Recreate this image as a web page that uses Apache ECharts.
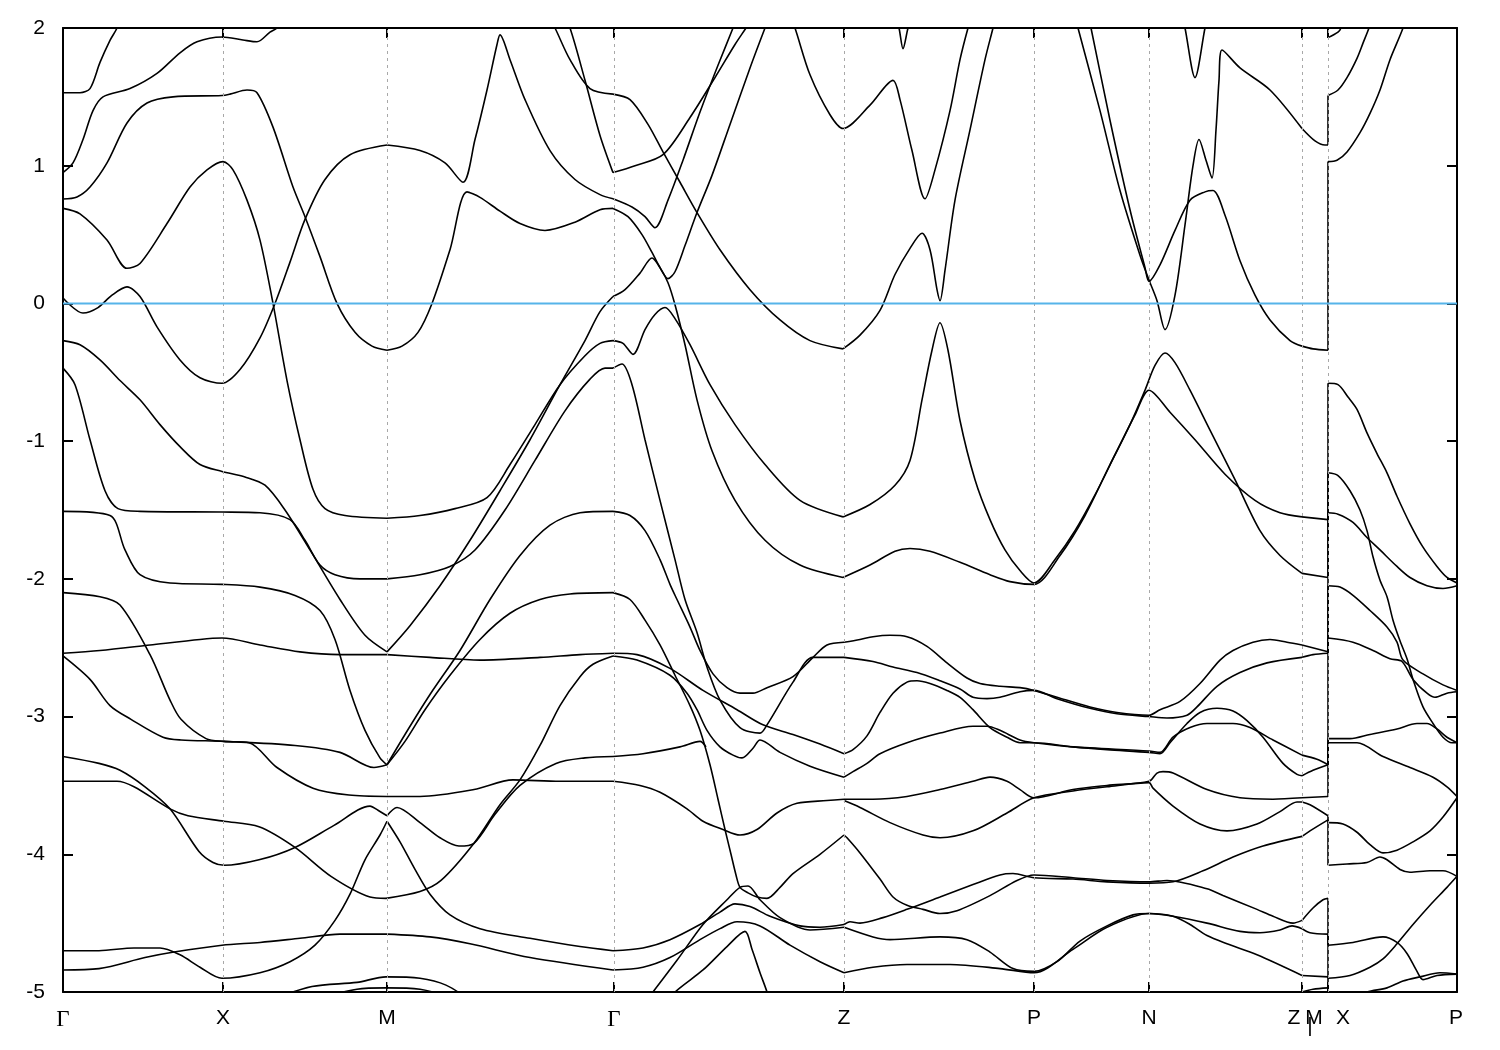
<!DOCTYPE html>
<html><head><meta charset="utf-8">
<script src="https://cdn.jsdelivr.net/npm/echarts@6/dist/echarts.min.js"></script>
<style>html,body{margin:0;padding:0;background:#fff}#c{width:1500px;height:1050px}</style>
</head><body><div id="c"></div>
<script>
// k-path positions (path-length units)
const kTicks = [0,160,324,551,781,971,1086,1239,1265,1394];
const kGrid = [160,324,551,781,971,1086,1239,1265];
const kLabels = [[0,'Γ'],[160,'X'],[324,'M'],[551,'Γ'],[781,'Z'],[971,'P'],[1086,'N'],[1231,'Z'],[1251,'M'],[1247,'|'],[1280,'X'],[1393,'P']];
const breakK = 1265;

// Γ-X-M bands (k, E in eV)
const bandsGXM = [
 [[0,1.53],[17,1.53],[27,1.56],[37,1.75],[47,1.91],[54,2.0],[58,2.1]],
 [[0,0.95],[10,1.02],[20,1.19],[30,1.40],[40,1.50],[67,1.56],[94,1.67],[117,1.82],[134,1.90],[159,1.935],[180,1.913],[194,1.90],[207,1.97],[214,2.0],[219,2.05]],
 [[0,0.758],[14,0.773],[27,0.845],[44,1.02],[64,1.31],[84,1.455],[110,1.50],[159,1.51],[167,1.52],[184,1.55],[194,1.53],[210,1.28],[230,0.845],[242,0.63],[257,0.34],[274,0.0],[292,-0.21],[309,-0.31],[324,-0.34]],
 [[0,0.69],[17,0.65],[44,0.46],[64,0.255],[77,0.29],[104,0.58],[127,0.845],[144,0.97],[160,1.03],[170,0.97],[184,0.75],[197,0.46],[210,0.0],[224,-0.56],[237,-0.99],[250,-1.35],[262,-1.49],[282,-1.54],[324,-1.56]],
 [[0,0.04],[20,-0.07],[35,-0.03],[49,0.06],[64,0.12],[77,0.05],[94,-0.17],[117,-0.41],[137,-0.54],[159,-0.58],[177,-0.48],[197,-0.25],[212,0.0],[227,0.30],[242,0.61],[262,0.90],[287,1.08],[324,1.15]],
 [[0,-0.27],[17,-0.30],[37,-0.41],[57,-0.56],[77,-0.70],[97,-0.88],[117,-1.04],[137,-1.17],[159,-1.22],[182,-1.26],[202,-1.32],[222,-1.50],[247,-1.79],[277,-2.15],[302,-2.41],[324,-2.53]],
 [[0,-0.47],[12,-0.59],[27,-0.99],[42,-1.36],[55,-1.49],[77,-1.51],[159,-1.515],[197,-1.52],[227,-1.57],[242,-1.72],[257,-1.90],[272,-1.97],[297,-2.0],[324,-2.0]],
 [[0,-1.51],[47,-1.54],[62,-1.79],[77,-1.97],[107,-2.03],[159,-2.04],[197,-2.06],[232,-2.12],[257,-2.23],[272,-2.44],[287,-2.81],[302,-3.10],[317,-3.30],[324,-3.35]],
 [[0,-2.10],[37,-2.13],[57,-2.19],[87,-2.55],[107,-2.88],[118,-3.02],[143,-3.16],[161,-3.18],[186,-3.19],[214,-3.37],[250,-3.52],[286,-3.57],[324,-3.58]],
 [[0,-2.54],[37,-2.52],[87,-2.48],[137,-2.44],[159,-2.43],[197,-2.48],[237,-2.53],[277,-2.55],[324,-2.55]],
 [[0,-2.56],[27,-2.73],[47,-2.92],[68,-3.02],[100,-3.15],[118,-3.17],[161,-3.18],[232,-3.21],[277,-3.26],[311,-3.37],[324,-3.35]],
 [[0,-3.29],[36,-3.34],[57,-3.39],[82,-3.51],[107,-3.67],[136,-3.98],[150,-4.06],[161,-4.08],[196,-4.04],[232,-3.95],[271,-3.79],[307,-3.65],[315,-3.68],[324,-3.72]],
 [[0,-3.47],[54,-3.47],[71,-3.51],[107,-3.67],[125,-3.72],[161,-3.76],[196,-3.80],[232,-3.95],[268,-4.16],[307,-4.31],[323,-4.32]],
 [[0,-4.70],[36,-4.70],[71,-4.68],[97,-4.68],[117,-4.73],[137,-4.82],[159,-4.90],[197,-4.86],[227,-4.78],[252,-4.66],[272,-4.48],[287,-4.29],[302,-4.04],[317,-3.86],[324,-3.76]],
 [[0,-4.84],[36,-4.83],[82,-4.75],[111,-4.71],[159,-4.66],[197,-4.64],[237,-4.61],[277,-4.58],[324,-4.58]],
 [[207,-5.06],[249,-4.96],[294,-4.93],[323,-4.89],[357,-4.90],[383,-4.95],[407,-5.06]],
 [[247,-5.06],[294,-4.98],[323,-4.97],[357,-4.98],[397,-5.06]]
];

// M-Γ bands
const bandsMG = [
 [[324,1.15],[357,1.11],[382,1.02],[400,0.88],[412,1.19],[424,1.55],[434,1.88],[437,1.95],[447,1.77],[462,1.48],[487,1.11],[512,0.90],[537,0.79],[550,0.76]],
 [[324,-0.34],[339,-0.31],[355,-0.21],[369,0.0],[387,0.39],[404,0.81],[417,0.77],[437,0.67],[457,0.58],[482,0.53],[512,0.59],[537,0.68],[550,0.69]],
 [[485,2.09],[492,2.0],[507,1.77],[527,1.56],[550,1.52]],
 [[500,2.09],[507,2.0],[522,1.62],[537,1.22],[550,0.95]],
 [[324,-1.56],[357,-1.54],[392,-1.49],[424,-1.41],[447,-1.17],[472,-0.88],[497,-0.59],[522,-0.38],[537,-0.29],[550,-0.27]],
 [[324,-2.0],[357,-1.97],[387,-1.91],[412,-1.79],[442,-1.50],[472,-1.14],[502,-0.78],[527,-0.55],[542,-0.47],[550,-0.47]],
 [[324,-2.53],[347,-2.34],[377,-2.05],[407,-1.72],[437,-1.36],[467,-0.99],[497,-0.59],[522,-0.27],[537,-0.06],[550,0.05]],
 [[324,-3.35],[342,-3.13],[367,-2.84],[397,-2.52],[427,-2.15],[457,-1.83],[487,-1.61],[517,-1.52],[550,-1.51]],
 [[324,-3.35],[342,-3.18],[362,-2.95],[387,-2.70],[417,-2.44],[447,-2.25],[477,-2.15],[507,-2.11],[550,-2.10]],
 [[324,-2.55],[367,-2.57],[417,-2.59],[477,-2.57],[517,-2.55],[550,-2.54]],
 [[324,-3.58],[357,-3.58],[411,-3.53],[450,-3.46],[497,-3.47],[550,-3.47]],
 [[323,-4.32],[357,-4.27],[378,-4.19],[411,-3.92],[437,-3.64],[457,-3.46],[477,-3.21],[497,-2.92],[517,-2.71],[530,-2.62],[550,-2.56]],
 [[324,-3.72],[334,-3.66],[357,-3.77],[377,-3.88],[396,-3.94],[411,-3.92],[432,-3.71],[457,-3.50],[493,-3.34],[522,-3.30],[550,-3.29]],
 [[324,-3.76],[337,-3.91],[352,-4.11],[367,-4.29],[387,-4.44],[417,-4.54],[467,-4.61],[517,-4.67],[550,-4.70]],
 [[324,-4.58],[367,-4.60],[407,-4.65],[467,-4.75],[550,-4.84]]
];

// Γ-Z bands
const bandsGZ = [
 [[550,1.52],[567,1.48],[585,1.30],[600,1.10],[617,0.88],[634,0.66],[657,0.39],[687,0.10],[717,-0.12],[747,-0.27],[780,-0.33]],
 [[550,0.95],[572,1.00],[600,1.08],[627,1.35],[652,1.64],[672,1.88],[683,2.0],[689,2.07]],
 [[550,0.76],[569,0.70],[582,0.63],[592,0.55],[605,0.75],[620,1.04],[637,1.39],[655,1.73],[670,2.0],[675,2.1]],
 [[550,0.69],[565,0.63],[579,0.50],[589,0.37],[597,0.26],[605,0.18],[612,0.23],[622,0.42],[634,0.66],[649,0.93],[667,1.30],[687,1.71],[702,2.0],[707,2.09]],
 [[550,0.05],[562,0.10],[577,0.22],[589,0.33],[597,0.26],[605,0.15],[612,-0.01],[622,-0.30],[634,-0.70],[649,-1.07],[672,-1.43],[702,-1.72],[737,-1.90],[780,-1.99]],
 [[550,-0.27],[560,-0.29],[570,-0.37],[582,-0.19],[592,-0.08],[602,-0.03],[612,-0.11],[627,-0.30],[647,-0.59],[672,-0.88],[702,-1.17],[737,-1.43],[780,-1.55]],
 [[550,-0.47],[559,-0.44],[569,-0.59],[582,-0.99],[597,-1.43],[612,-1.86],[622,-2.15],[634,-2.39],[644,-2.64],[657,-2.88],[677,-3.08],[697,-3.12],[704,-3.06],[730,-2.75],[750,-2.57],[781,-2.57]],
 [[550,-1.51],[567,-1.54],[582,-1.65],[597,-1.86],[607,-2.04],[614,-2.15],[627,-2.35],[637,-2.52],[650,-2.69],[664,-2.79],[677,-2.83],[690,-2.83],[704,-2.79],[730,-2.71],[750,-2.57],[764,-2.48],[781,-2.46]],
 [[550,-2.54],[574,-2.55],[607,-2.65],[640,-2.81],[674,-2.95],[700,-3.06],[730,-3.13],[757,-3.20],[781,-3.27]],
 [[550,-2.56],[574,-2.59],[607,-2.70],[624,-2.83],[634,-2.95],[644,-3.10],[657,-3.22],[670,-3.28],[679,-3.30],[690,-3.23],[697,-3.17],[717,-3.26],[747,-3.36],[781,-3.44]],
 [[550,-2.10],[567,-2.15],[582,-2.30],[597,-2.48],[612,-2.70],[627,-2.92],[637,-3.10],[647,-3.35],[655,-3.60],[662,-3.82],[668,-4.00],[673,-4.15],[677,-4.24],[685,-4.28],[694,-4.31],[704,-4.32],[717,-4.24],[730,-4.14],[757,-4.00],[781,-3.86]],
 [[550,-3.29],[580,-3.27],[617,-3.22],[637,-3.18],[643,-3.22]],
 [[550,-3.47],[577,-3.50],[597,-3.55],[624,-3.67],[640,-3.76],[660,-3.82],[677,-3.86],[694,-3.82],[714,-3.70],[734,-3.63],[764,-3.61],[781,-3.60]],
 [[550,-4.70],[580,-4.68],[607,-4.62],[637,-4.51],[657,-4.42],[672,-4.36],[687,-4.38],[707,-4.45],[737,-4.52],[757,-4.53],[781,-4.51]],
 [[550,-4.84],[580,-4.82],[607,-4.75],[637,-4.62],[657,-4.54],[674,-4.49],[697,-4.52],[727,-4.66],[757,-4.78],[781,-4.86]],
 [[577,-5.13],[590,-5.0],[614,-4.77],[640,-4.51],[664,-4.33],[677,-4.24],[685,-4.23],[697,-4.33],[717,-4.46],[747,-4.55],[781,-4.53]],
 [[597,-5.13],[612,-5.0],[640,-4.84],[664,-4.67],[682,-4.56],[689,-4.69],[697,-4.86],[704,-5.0],[709,-5.13]]
];

// Z-P-N-Z bands
const bandsZPNZ = [
 [[727,2.09],[732,2.0],[747,1.66],[767,1.37],[780,1.27],[807,1.44],[830,1.62],[837,1.48],[849,1.11],[862,0.76],[872,0.97],[887,1.40],[897,1.77],[905,2.0],[909,2.09]],
 [[832,2.09],[836,2.0],[840,1.85],[845,2.0],[849,2.09]],
 [[780,-0.33],[797,-0.23],[817,-0.05],[832,0.21],[847,0.40],[859,0.51],[867,0.39],[874,0.10],[877,0.02],[882,0.24],[892,0.75],[907,1.26],[922,1.77],[930,2.0],[933,2.09]],
 [[780,-1.55],[807,-1.46],[832,-1.32],[847,-1.14],[859,-0.70],[869,-0.34],[877,-0.14],[885,-0.34],[897,-0.85],[912,-1.28],[927,-1.57],[942,-1.79],[957,-1.94],[971,-2.03],[992,-1.86],[1012,-1.65],[1032,-1.39],[1052,-1.10],[1072,-0.81],[1086,-0.63],[1107,-0.79],[1132,-0.99],[1162,-1.24],[1192,-1.43],[1217,-1.52],[1239,-1.55]],
 [[780,-1.99],[807,-1.90],[832,-1.80],[847,-1.78],[867,-1.80],[897,-1.88],[927,-1.97],[947,-2.02],[971,-2.04],[997,-1.83],[1022,-1.54],[1047,-1.17],[1067,-0.88],[1082,-0.63],[1092,-0.45],[1102,-0.36],[1112,-0.43],[1127,-0.63],[1147,-0.92],[1172,-1.28],[1197,-1.65],[1217,-1.83],[1239,-1.96]],
 [[1012,2.09],[1015,2.0],[1037,1.40],[1057,0.82],[1077,0.35],[1086,0.17],[1094,0.02],[1102,-0.19],[1112,0.06],[1122,0.57],[1130,1.00],[1136,1.19],[1143,1.04],[1149,0.91],[1153,1.26],[1156,1.62],[1159,1.84],[1177,1.71],[1207,1.55],[1239,1.27]],
 [[1025,2.09],[1028,2.0],[1047,1.33],[1067,0.68],[1082,0.26],[1086,0.16],[1097,0.28],[1112,0.53],[1127,0.75],[1142,0.81],[1150,0.82],[1162,0.64],[1177,0.31],[1192,0.06],[1207,-0.12],[1227,-0.27],[1239,-0.31]],
 [[1119,2.09],[1122,2.0],[1132,1.64],[1142,2.0],[1145,2.09]],
 [[781,-2.46],[797,-2.44],[810,-2.42],[827,-2.41],[844,-2.42],[864,-2.49],[884,-2.61],[904,-2.72],[917,-2.76],[937,-2.78],[957,-2.79],[971,-2.81],[994,-2.86],[1027,-2.93],[1054,-2.97],[1086,-2.99],[1097,-2.95],[1117,-2.89],[1137,-2.76],[1157,-2.59],[1170,-2.52],[1190,-2.46],[1207,-2.44],[1224,-2.46],[1239,-2.48]],
 [[781,-2.57],[810,-2.60],[830,-2.64],[854,-2.68],[877,-2.74],[897,-2.80],[910,-2.86],[924,-2.87],[937,-2.86],[957,-2.82],[971,-2.81],[994,-2.87],[1027,-2.94],[1054,-2.98],[1086,-3.0],[1104,-3.01],[1124,-2.99],[1134,-2.93],[1154,-2.78],[1177,-2.68],[1204,-2.61],[1239,-2.57]],
 [[781,-3.27],[790,-3.24],[804,-3.14],[817,-2.97],[830,-2.83],[844,-2.75],[854,-2.74],[867,-2.76],[884,-2.81],[897,-2.86],[910,-2.95],[927,-3.08],[944,-3.15],[957,-3.19],[971,-3.19],[1010,-3.22],[1044,-3.24],[1086,-3.26],[1097,-3.27],[1107,-3.19],[1124,-3.05],[1137,-2.97],[1154,-2.94],[1170,-2.96],[1184,-3.03],[1200,-3.15],[1220,-3.34],[1234,-3.42],[1239,-3.43]],
 [[781,-3.44],[790,-3.40],[804,-3.34],[817,-3.27],[844,-3.19],[877,-3.12],[910,-3.07],[924,-3.07],[937,-3.10],[957,-3.17],[971,-3.19],[1010,-3.22],[1086,-3.25],[1097,-3.26],[1110,-3.15],[1127,-3.08],[1144,-3.05],[1170,-3.05],[1187,-3.08],[1210,-3.17],[1239,-3.28]],
 [[781,-3.60],[810,-3.60],[844,-3.58],[877,-3.53],[910,-3.47],[927,-3.44],[944,-3.47],[957,-3.53],[971,-3.59],[1010,-3.53],[1044,-3.50],[1086,-3.47],[1094,-3.41],[1100,-3.40],[1110,-3.41],[1144,-3.53],[1177,-3.59],[1210,-3.60],[1239,-3.59]],
 [[781,-3.61],[797,-3.66],[827,-3.77],[860,-3.86],[877,-3.88],[910,-3.83],[944,-3.70],[971,-3.59],[1010,-3.54],[1044,-3.51],[1086,-3.48],[1090,-3.52],[1110,-3.65],[1137,-3.78],[1164,-3.83],[1194,-3.78],[1217,-3.69],[1234,-3.62],[1239,-3.62]],
 [[781,-3.86],[784,-3.88],[797,-3.99],[817,-4.18],[830,-4.31],[844,-4.37],[860,-4.40],[877,-4.43],[894,-4.41],[927,-4.30],[954,-4.19],[971,-4.15],[1010,-4.17],[1044,-4.19],[1086,-4.20],[1104,-4.19],[1144,-4.25],[1160,-4.30],[1194,-4.40],[1210,-4.45],[1230,-4.50],[1239,-4.48]],
 [[781,-4.51],[787,-4.49],[797,-4.50],[820,-4.46],[844,-4.40],[877,-4.31],[910,-4.22],[937,-4.15],[950,-4.14],[971,-4.17],[1010,-4.18],[1044,-4.20],[1086,-4.21],[1110,-4.20],[1140,-4.12],[1170,-4.02],[1200,-3.94],[1239,-3.87]],
 [[781,-4.53],[810,-4.60],[827,-4.62],[877,-4.60],[904,-4.62],[927,-4.71],[950,-4.83],[971,-4.85],[994,-4.78],[1017,-4.63],[1044,-4.52],[1070,-4.44],[1086,-4.43],[1110,-4.45],[1127,-4.51],[1144,-4.59],[1164,-4.65],[1194,-4.73],[1239,-4.88]],
 [[781,-4.86],[810,-4.82],[844,-4.80],[887,-4.80],[937,-4.83],[971,-4.86],[1010,-4.69],[1044,-4.53],[1086,-4.43],[1110,-4.45],[1144,-4.50],[1177,-4.56],[1197,-4.57],[1217,-4.55],[1229,-4.52],[1239,-4.54]]
];

// short Z-M piece before the break
const bandsZM = [
 [[1239,2.3],[1265,2.2]],
 [[1239,1.27],[1252,1.18],[1262,1.15],[1265,1.15]],
 [[1239,-0.31],[1250,-0.33],[1265,-0.34]],
 [[1239,-1.55],[1265,-1.57]],
 [[1239,-1.96],[1265,-1.99]],
 [[1239,-2.48],[1265,-2.53]],
 [[1239,-2.57],[1250,-2.55],[1265,-2.54]],
 [[1239,-3.43],[1250,-3.39],[1265,-3.35]],
 [[1239,-3.28],[1254,-3.31],[1265,-3.35]],
 [[1239,-3.59],[1265,-3.58]],
 [[1239,-3.62],[1247,-3.64],[1265,-3.72]],
 [[1239,-3.87],[1247,-3.83],[1265,-3.75]],
 [[1239,-4.48],[1250,-4.39],[1260,-4.33],[1265,-4.32]],
 [[1239,-4.54],[1247,-4.57],[1265,-4.58]],
 [[1239,-4.88],[1265,-4.89]],
 [[1239,-5.0],[1250,-4.98],[1265,-4.97]]
];

// X-P piece after the break
const bandsXP = [
 [[1265,1.93],[1275,1.97],[1278,2.0],[1282,2.1]],
 [[1265,1.51],[1275,1.55],[1284,1.64],[1294,1.78],[1300,1.89],[1306,2.0],[1312,2.13]],
 [[1265,1.03],[1274,1.04],[1284,1.10],[1297,1.24],[1307,1.38],[1317,1.55],[1327,1.77],[1340,2.0],[1346,2.15]],
 [[1265,-0.58],[1275,-0.59],[1285,-0.68],[1294,-0.77],[1304,-0.94],[1314,-1.09],[1324,-1.23],[1334,-1.40],[1347,-1.60],[1360,-1.77],[1374,-1.91],[1384,-1.99],[1394,-2.03]],
 [[1265,-1.23],[1275,-1.25],[1287,-1.36],[1297,-1.50],[1304,-1.65],[1310,-1.84],[1317,-2.01],[1324,-2.13],[1330,-2.30],[1337,-2.45],[1344,-2.58],[1350,-2.73],[1360,-2.93],[1370,-3.05],[1380,-3.15],[1389,-3.19],[1394,-3.19]],
 [[1265,-1.52],[1275,-1.53],[1290,-1.59],[1304,-1.70],[1317,-1.79],[1334,-1.91],[1347,-1.99],[1364,-2.05],[1380,-2.07],[1394,-2.05]],
 [[1265,-2.05],[1277,-2.06],[1290,-2.12],[1307,-2.23],[1324,-2.35],[1334,-2.46],[1340,-2.59],[1360,-2.69],[1380,-2.77],[1394,-2.81]],
 [[1265,-2.43],[1290,-2.46],[1310,-2.52],[1327,-2.58],[1339,-2.60],[1350,-2.73],[1364,-2.83],[1372,-2.86],[1384,-2.83],[1394,-2.82]],
 [[1265,-3.16],[1287,-3.16],[1307,-3.13],[1334,-3.09],[1354,-3.05],[1364,-3.05],[1374,-3.09],[1384,-3.15],[1394,-3.19]],
 [[1265,-3.19],[1294,-3.19],[1320,-3.29],[1347,-3.37],[1370,-3.44],[1384,-3.51],[1394,-3.58]],
 [[1265,-3.77],[1280,-3.78],[1294,-3.84],[1307,-3.93],[1320,-3.99],[1334,-3.97],[1350,-3.91],[1367,-3.83],[1380,-3.73],[1394,-3.59]],
 [[1265,-4.08],[1284,-4.07],[1304,-4.06],[1317,-4.02],[1324,-4.04],[1337,-4.11],[1347,-4.13],[1367,-4.12],[1380,-4.12],[1394,-4.16]],
 [[1265,-4.66],[1290,-4.64],[1320,-4.60],[1334,-4.64],[1344,-4.72],[1354,-4.85],[1360,-4.91],[1374,-4.88],[1394,-4.87]],
 [[1265,-4.90],[1287,-4.88],[1307,-4.82],[1320,-4.76],[1334,-4.65],[1350,-4.51],[1367,-4.37],[1384,-4.24],[1394,-4.16]],
 [[1265,-5.15],[1290,-5.05],[1304,-5.0],[1324,-4.97],[1340,-4.92],[1357,-4.89],[1377,-4.86],[1394,-4.87]],
 [[1265,-5.3],[1394,-5.2]]
];

// vertical jumps at the path break: bands matched by energy order
const leftEnds = bandsZM.map(b => b[b.length-1][1]).sort((a,b)=>b-a);
const rightStarts = bandsXP.map(b => b[0][1]).sort((a,b)=>b-a);
const jumps = leftEnds.map((e,i) => [[breakK,e],[breakK,rightStarts[i]]]);

const chart = echarts.init(document.getElementById('c'), null, {renderer:'canvas'});
const bandStyle = {color:'#000', width:1.6};
const allBands = [...bandsGXM, ...bandsMG, ...bandsGZ, ...bandsZPNZ, ...bandsZM, ...bandsXP, ...jumps];
const series = allBands.map(b => ({
  type:'line', data:b, showSymbol:false, smooth:0.3, silent:true,
  lineStyle:bandStyle, itemStyle:{color:'#000'}, animation:false, z:3, clip:true
}));
series.push({
  type:'line', data:[], silent:true, animation:false,
  markLine:{silent:true, symbol:['none','none'], label:{show:false}, animation:false,
    lineStyle:{color:'#a8a8a8', type:[3,4], width:1},
    data:kGrid.map(v=>({xAxis:v}))}, z:1
});
series.push({type:'line', data:[[0,0],[1394,0]], showSymbol:false, silent:true, animation:false,
  lineStyle:{color:'#56b4e9', width:2}, z:5});

const labelMap = {};
kLabels.forEach(([k,t]) => labelMap[k]=t);
const labelFont = 'Liberation Sans, Arial, sans-serif';
const axisLineStyle = {show:true, onZero:false, lineStyle:{color:'#000', width:2}};

chart.setOption({
  animation:false,
  backgroundColor:'#fff',
  grid:{left:63, right:43, top:28, bottom:58},
  xAxis:[{
    type:'value', min:0, max:1394, position:'bottom',
    axisLine:axisLineStyle,
    axisTick:{show:true, inside:true, length:10, customValues:kTicks, lineStyle:{color:'#000', width:2}},
    axisLabel:{show:true, customValues:kLabels.map(l=>l[0]), margin:16, color:'#000', fontSize:21, fontFamily:labelFont,
      formatter:v => { const t = labelMap[v]; if (t==='Γ') return '{g|Γ}'; if (t==='|') return '{bar||}'; return t||''; },
      rich:{g:{fontFamily:'Liberation Serif, Times New Roman, serif', fontSize:23, color:'#000'},
            bar:{fontSize:21, color:'#000', padding:[8,0,0,0], fontFamily:labelFont}}},
    splitLine:{show:false}
  },{
    type:'value', min:0, max:1394, position:'top',
    axisLine:axisLineStyle,
    axisTick:{show:true, inside:true, length:10, customValues:kTicks, lineStyle:{color:'#000', width:2}},
    axisLabel:{show:false}, splitLine:{show:false}
  }],
  yAxis:[{
    type:'value', min:-5, max:2, interval:1, position:'left',
    axisLine:axisLineStyle,
    axisTick:{show:true, inside:true, length:10, lineStyle:{color:'#000', width:2}},
    axisLabel:{color:'#000', fontSize:21, fontFamily:labelFont, margin:18},
    splitLine:{show:false}
  },{
    type:'value', min:-5, max:2, interval:1, position:'right',
    axisLine:axisLineStyle,
    axisTick:{show:true, inside:true, length:10, lineStyle:{color:'#000', width:2}},
    axisLabel:{show:false}, splitLine:{show:false}
  }],
  series: series
});
</script></body></html>
